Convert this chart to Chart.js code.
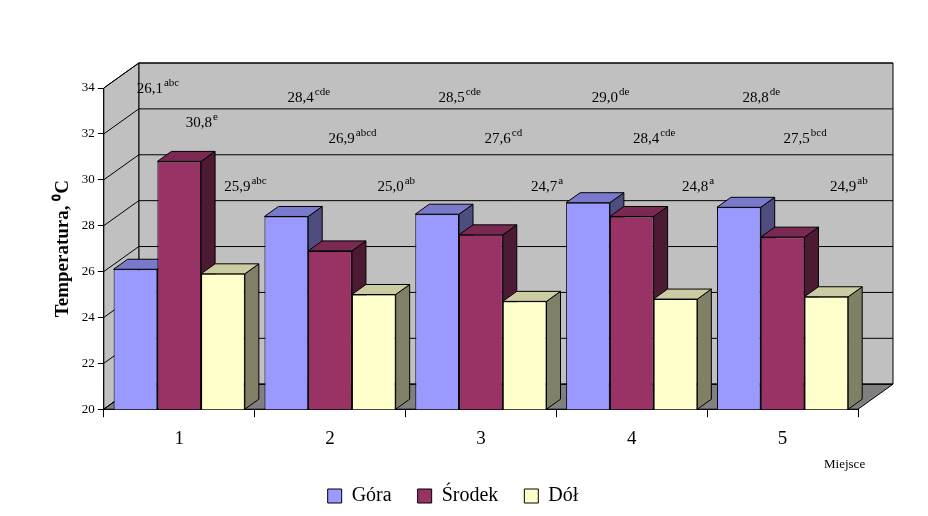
<!DOCTYPE html>
<html><head><meta charset="utf-8">
<script src="https://cdn.jsdelivr.net/npm/chart.js@4"></script>
<style>html,body{margin:0;background:#fff}#w{width:928px;height:516px}</style>
</head><body><div id="w"><canvas id="c"></canvas></div>
<script>
const categories = ['1','2','3','4','5'];
const gora   = [26.1, 28.4, 28.5, 29.0, 28.8];
const srodek = [30.8, 26.9, 27.6, 28.4, 27.5];
const dol    = [25.9, 25.0, 24.7, 24.8, 24.9];
const goraLetters   = ['abc','cde','cde','de','de'];
const srodekLetters = ['e','abcd','cd','cde','bcd'];
const dolLetters    = ['abc','ab','a','a','ab'];
const labelRows = [33.4, 31.6, 29.5]; // value heights where annotations sit
const yTicks = [20,22,24,26,28,30,32,34];

const DX = 35, DY = -25, BX = 14, BY = -10;
const FONT = '"Liberation Serif", "Times New Roman", serif';
const shade = {
  '#9999ff': ['#4d4d80', '#7a7acc'],
  '#993366': ['#4d1a33', '#7a2952'],
  '#ffffcc': ['#808066', '#cccca3']
};
function poly(ctx, pts, fill){
  ctx.beginPath(); ctx.moveTo(pts[0][0],pts[0][1]);
  for(let i=1;i<pts.length;i++) ctx.lineTo(pts[i][0],pts[i][1]);
  ctx.closePath(); ctx.fillStyle=fill; ctx.fill();
  ctx.strokeStyle='#000'; ctx.lineWidth=1; ctx.stroke();
}
const threeD = {
  id:'threeD',
  beforeDatasetsDraw(chart){
    const {ctx, chartArea:a, scales:{y}} = chart;
    const b = y.getPixelForValue(20), t = y.getPixelForValue(34);
    ctx.save();
    poly(ctx, [[a.left+DX,t+DY],[a.right+DX,t+DY],[a.right+DX,b+DY],[a.left+DX,b+DY]], '#c0c0c0');
    poly(ctx, [[a.left,t],[a.left+DX,t+DY],[a.left+DX,b+DY],[a.left,b]], '#c0c0c0');
    poly(ctx, [[a.left,b],[a.left+DX,b+DY],[a.right+DX,b+DY],[a.right,b]], '#808080');
    ctx.strokeStyle='#000'; ctx.lineWidth=1;
    yTicks.forEach(v=>{
      const p = y.getPixelForValue(v);
      ctx.beginPath(); ctx.moveTo(a.left,p); ctx.lineTo(a.left+DX,p+DY); ctx.lineTo(a.right+DX,p+DY); ctx.stroke();
    });
    chart.data.datasets.forEach((ds,di)=>{
      const [side, top] = shade[ds.backgroundColor];
      chart.getDatasetMeta(di).data.forEach(bar=>{
        const l = bar.x - bar.width/2, r = bar.x + bar.width/2, ty = bar.y, by = b;
        poly(ctx, [[r,ty],[r+BX,ty+BY],[r+BX,by+BY],[r,by]], side);
        poly(ctx, [[l,ty],[l+BX,ty+BY],[r+BX,ty+BY],[r,ty]], top);
      });
    });
    ctx.restore();
  },
  afterDatasetsDraw(chart){
    const {ctx, scales:{y}} = chart;
    const letters = [goraLetters, srodekLetters, dolLetters];
    ctx.save(); ctx.fillStyle='#000'; ctx.textBaseline='alphabetic';
    chart.data.datasets.forEach((ds,di)=>{
      chart.getDatasetMeta(di).data.forEach((bar,i)=>{
        const txt = ds.data[i].toFixed(1).replace('.',',');
        ctx.font = '15px '+FONT;
        const w1 = ctx.measureText(txt).width;
        ctx.font = '11px '+FONT;
        const w2 = ctx.measureText(letters[di][i]).width;
        const cx = bar.x + 22;
        const py = y.getPixelForValue(labelRows[di] + (di===0&&i===0?0.4:0) + (di===1&&i===0?0.7:0));
        const x0 = cx - (w1+w2)/2;
        ctx.font = '15px '+FONT; ctx.textAlign='left';
        ctx.fillText(txt, x0, py);
        ctx.font = '11px '+FONT;
        ctx.fillText(letters[di][i], x0+w1+1, py-7);
      });
    });
    ctx.font = '13px '+FONT; ctx.textAlign='left';
    ctx.fillText('Miejsce', 824, 468);
    ctx.restore();
  }
};
new Chart(document.getElementById('c'), {
  type:'bar',
  data:{ labels:categories, datasets:[
    {label:'Góra', data:gora, backgroundColor:'#9999ff'},
    {label:'Środek', data:srodek, backgroundColor:'#993366'},
    {label:'Dół', data:dol, backgroundColor:'#ffffcc'}
  ].map(d=>Object.assign(d,{borderColor:'#000',borderWidth:1,borderSkipped:false,categoryPercentage:0.87,barPercentage:1}))},
  plugins:[threeD],
  options:{
    responsive:true, maintainAspectRatio:false, animation:false,
    layout:{padding:{top:88,right:70,left:48,bottom:0}},
    plugins:{
      tooltip:{enabled:false},
      legend:{position:'bottom', labels:{font:{family:FONT,size:20}, color:'#000', boxWidth:14, boxHeight:14, padding:26}}
    },
    scales:{
      x:{grid:{display:true, drawOnChartArea:false, offset:true, color:'#000', tickLength:8},
         border:{color:'#000'}, ticks:{font:{family:FONT,size:19}, color:'#000', padding:10}},
      y:{min:20, max:34, ticks:{stepSize:2, font:{family:FONT,size:13}, color:'#000'},
         grid:{drawOnChartArea:false, color:'#000', tickLength:6}, border:{color:'#000'},
         title:{display:true, text:'Temperatura, \u2070C', font:{family:FONT,size:19,weight:'bold'}, color:'#000'}}
    }
  }
});
</script></body></html>
